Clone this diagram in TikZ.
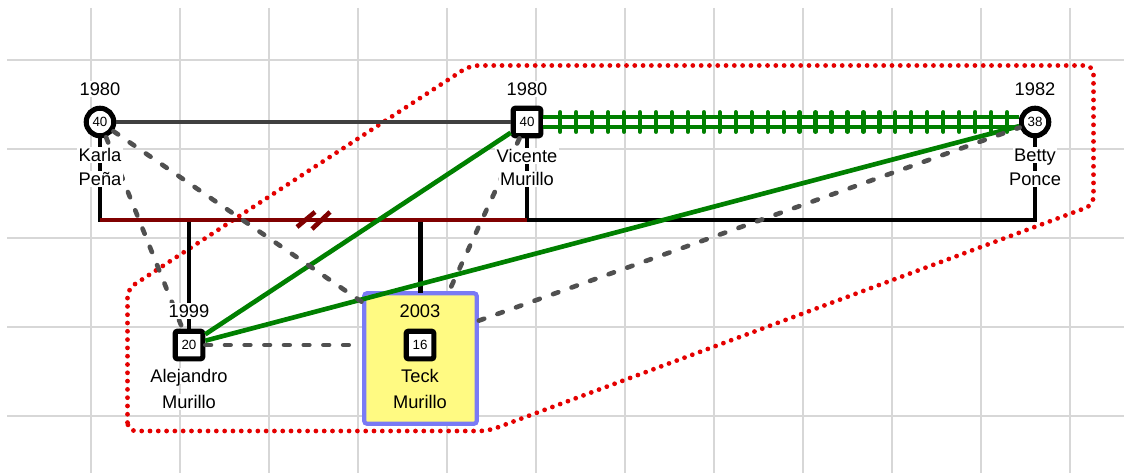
\documentclass[tikz,border=0pt]{standalone}
\usepackage{fontspec}
\setmainfont{Liberation Sans}
\usetikzlibrary{positioning,decorations.markings}

\definecolor{gridgray}{RGB}{215,215,215}
\definecolor{relgreen}{RGB}{0,128,0}
\definecolor{divred}{RGB}{128,0,0}
\definecolor{zonered}{RGB}{228,0,0}
\definecolor{linkgray}{RGB}{80,80,80}
\definecolor{marrgray}{RGB}{64,64,64}
\definecolor{focusfill}{RGB}{255,250,130}
\definecolor{focusblue}{RGB}{122,122,245}

\tikzset{
  gridline/.style={gridgray, line width=0.9pt},
  male/.style={draw, rectangle, rounded corners=1.5pt, line width=3.6pt, fill=white,
    minimum size=19.6pt, inner sep=0pt, font=\fontsize{9.5}{10}\selectfont},
  female/.style={draw, circle, line width=3.6pt, fill=white,
    minimum size=19.6pt, inner sep=0pt, font=\fontsize{9.5}{10}\selectfont},
  lbl/.style={fill=white, inner sep=1pt, text height=9.4pt, text depth=0pt,
    font=\fontsize{13}{15}\selectfont},
  boxlbl/.style={lbl, fill=none},
  focusbox/.style={draw=focusblue, fill=focusfill, line width=3pt, rounded corners=2pt,
    minimum width=80pt, minimum height=92.8pt, inner sep=0pt},
  bond/.style={line width=3.3pt},
  childline/.style={bond, black, line cap=rect},
  divline/.style={bond, divred},
  link/.style={bond, linkgray, line cap=round, dash pattern=on 4pt off 10pt},
  fenceline/.style={bond, relgreen, line width=3pt, double=white, double distance=4.2pt},
  fenceticks/.style={decorate, decoration={markings,
    mark=between positions 12pt and 1 step 11.35pt with
      {\draw[relgreen, line width=3pt, line cap=round] (0,-7pt) -- (0,7pt);}}},
  zone/.style={zonered, line width=3.4pt, line cap=round, dash pattern=on 0pt off 5.9pt,
    rounded corners=6pt}
}

\begin{document}
\begin{tikzpicture}[x=0.025cm, y=-0.025cm]
  \useasboundingbox (0,0) rectangle (1124,473);

  % grid
  \foreach \x in {91,180,...,1070}{
    \draw[gridline] (\x,8) -- (\x,473);
  }
  \foreach \y in {60,149,...,416}{
    \draw[gridline] (7,\y) -- (1124,\y);
  }

  % household zone
  \draw[zone] (127.5,431) -- (127.5,289) -- (470,65.5) -- (1093.5,65.5)
    -- (1093.5,205) -- (488,431) -- cycle;

  % people
  \node[focusbox] (teckbox) at (420.5,358.5) {};
  \node[female] (karla) at (100,122) {40};
  \node[male] (vicente) at (527,122) {40};
  \node[female] (betty) at (1035,122) {38};
  \node[male] (alejandro) at (189,345) {20};
  \node[male] (teck) at (420,345) {16};

  % family lines
  \draw[childline] (karla) -- (karla |- 0,220);
  \draw[childline] (vicente) -- (vicente |- 0,220);
  \draw[childline] (alejandro |- 0,220) -- (alejandro);
  \draw[childline] (teckbox.north |- 0,220) -- (teckbox.north);
  \draw[bond, black] (vicente |- 0,220) -- (betty |- 0,220) -- (betty);
  \draw[divline] (karla |- 0,220) -- coordinate[pos=0.5] (split) (vicente |- 0,220);
  \draw[divline] ([shift={(-16.5,7)}]split) -- ([shift={(1.5,-8)}]split);
  \draw[divline] ([shift={(-1.5,9)}]split) -- ([shift={(16.5,-8)}]split);

  % relationships
  \draw[bond, marrgray] (karla) -- (vicente);
  \draw[fenceline] (vicente) -- (betty);
  \path[fenceticks] (vicente) -- (betty);
  \draw[bond, relgreen] (alejandro) -- (vicente);
  \draw[bond, relgreen] (alejandro) -- (betty);
  \draw[link] (karla) -- (alejandro);
  \draw[link] (karla) -- (teckbox.136);
  \draw[link] (vicente) -- (teckbox.67);
  \draw[link] (teckbox.33) -- (betty);
  \draw[link] (alejandro) -- (alejandro -| teckbox.west);

  % labels
  \node[lbl] (karlayear) at (100,89) {1980};
  \node[lbl] (karlaname) at (100,155) {Karla};
  \node[lbl] (karlasurname) at (100,179) {Peña};
  \node[lbl] (vicenteyear) at (527,89) {1980};
  \node[lbl] (vicentename) at (527,156) {Vicente};
  \node[lbl] (vicentesurname) at (527,179) {Murillo};
  \node[lbl] (bettyyear) at (1035,89) {1982};
  \node[lbl] (bettyname) at (1035,155) {Betty};
  \node[lbl] (bettysurname) at (1035,179) {Ponce};
  \node[lbl] (alejandroyear) at (189,311) {1999};
  \node[lbl] (alejandroname) at (189,376) {Alejandro};
  \node[lbl] (alejandrosurname) at (189,402) {Murillo};
  \node[boxlbl] (teckyear) at (420,311) {2003};
  \node[boxlbl] (teckname) at (420,376) {Teck};
  \node[boxlbl] (tecksurname) at (420,402) {Murillo};
\end{tikzpicture}
\end{document}
